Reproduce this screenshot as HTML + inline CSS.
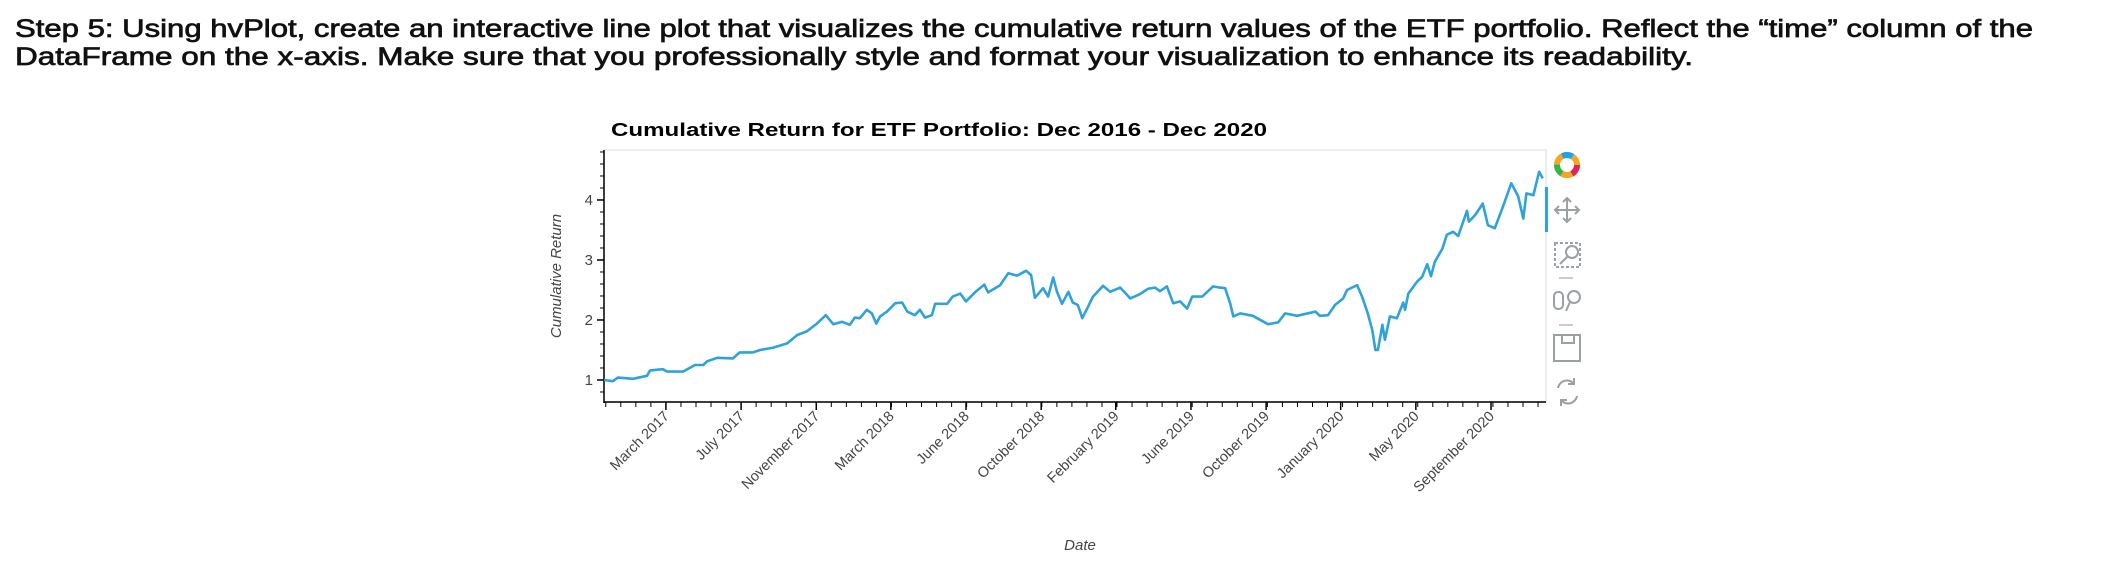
<!DOCTYPE html>
<html><head><meta charset="utf-8"><style>
html,body{margin:0;padding:0;background:#fff;width:2108px;height:567px;overflow:hidden}
svg{display:block}
</style></head><body>
<svg id="root" width="2108" height="567" xmlns="http://www.w3.org/2000/svg">
<text x="15" y="37" font-family="Liberation Sans, sans-serif" font-size="25" fill="#111" stroke="#111" stroke-width="0.7" textLength="2018" lengthAdjust="spacingAndGlyphs">Step 5: Using hvPlot, create an interactive line plot that visualizes the cumulative return values of the ETF portfolio. Reflect the “time” column of the</text>
<text x="15" y="65" font-family="Liberation Sans, sans-serif" font-size="25" fill="#111" stroke="#111" stroke-width="0.7" textLength="1678" lengthAdjust="spacingAndGlyphs">DataFrame on the x-axis. Make sure that you professionally style and format your visualization to enhance its readability.</text>
<text x="611" y="136" font-family="Liberation Sans, sans-serif" font-size="18" font-weight="bold" fill="#000" textLength="656" lengthAdjust="spacingAndGlyphs">Cumulative Return for ETF Portfolio: Dec 2016 - Dec 2020</text>
<rect x="604" y="150" width="942" height="252" fill="#fff" stroke="#e6e6e6" stroke-width="1.5"/>
<g id="axes"></g>
<path id="line" fill="none" stroke="#30a2da" stroke-width="2.6" stroke-linejoin="round"/>
<rect x="1545" y="187" width="3" height="45" fill="#30a2da"/>
<text transform="translate(561,276) rotate(-90)" text-anchor="middle" font-family="Liberation Sans, sans-serif" font-size="15" font-style="italic" fill="#444">Cumulative Return</text>
<text x="1080" y="550" text-anchor="middle" font-family="Liberation Sans, sans-serif" font-size="15" font-style="italic" fill="#444">Date</text>
<g fill="none" stroke="#9aa0a3" stroke-width="2">
 <g>
  <circle cx="1567" cy="165" r="10" fill="none" stroke="#f5a623" stroke-width="6"/>
  <circle cx="1567" cy="165" r="10" fill="none" stroke="#e0245e" stroke-width="6" stroke-dasharray="10.5 52" stroke-dashoffset="0"/>
  <circle cx="1567" cy="165" r="10" fill="none" stroke="#2db84b" stroke-width="6" stroke-dasharray="10.5 52" stroke-dashoffset="-21"/>
  <circle cx="1567" cy="165" r="10" fill="none" stroke="#1da1f2" stroke-width="6" stroke-dasharray="10.5 52" stroke-dashoffset="-42"/>
 </g>
 <g>
  <path d="M1567 198 v24 M1555 210 h24 M1563 202 l4-4 4 4 M1563 218 l4 4 4-4 M1559 206 l-4 4 4 4 M1575 206 l4 4-4 4"/>
 </g>
 <g>
  <rect x="1555" y="243" width="25" height="24" stroke-dasharray="3 2"/>
  <circle cx="1572" cy="252" r="6"/><path d="M1568 256 l-8 8"/>
 </g>
 <path d="M1559 278 h14 M1559 325 h14" stroke="#ccc"/>
 <g>
  <rect x="1554" y="292" width="9" height="17" rx="4"/>
  <circle cx="1574" cy="297" r="6"/><path d="M1570 302 l-4 9"/>
 </g>
 <g>
  <rect x="1554" y="335" width="26" height="26"/><path d="M1562 335 v8 h12 v-8"/>
 </g>
 <g>
  <path d="M1558 388 a9 9 0 0 1 16-4 M1577 396 a9 9 0 0 1-16 4"/>
  <path d="M1574 378 v6 h-6 M1561 406 v-6 h6"/>
 </g>
</g>
</svg>
<script>
const days = [0,14,22,46,68,73,93,100,125,144,157,163,179,204,215,236,247,268,290,306,321,337,351,363,377,389,397,405,416,424,431,437,448,461,472,480,492,500,508,519,524,543,552,564,573,587,602,608,627,640,654,668,676,682,695,703,711,717,725,735,742,750,757,766,774,790,801,817,833,848,861,872,880,891,901,912,923,931,947,964,975,983,991,996,1007,1027,1051,1067,1078,1097,1126,1133,1146,1157,1170,1176,1192,1200,1209,1216,1221,1225,1232,1236,1244,1255,1265,1268,1273,1287,1295,1303,1309,1315,1327,1334,1344,1352,1366,1369,1379,1391,1399,1410,1423,1436,1447,1455,1460,1471,1480,1486];
const returns = [1.00,0.98,1.04,1.02,1.07,1.16,1.18,1.14,1.14,1.25,1.25,1.31,1.37,1.36,1.46,1.46,1.50,1.54,1.61,1.75,1.81,1.94,2.08,1.93,1.97,1.92,2.04,2.03,2.17,2.11,1.94,2.06,2.14,2.28,2.29,2.14,2.08,2.17,2.04,2.08,2.27,2.27,2.39,2.44,2.31,2.46,2.59,2.46,2.58,2.78,2.74,2.82,2.75,2.37,2.53,2.39,2.71,2.47,2.27,2.47,2.29,2.25,2.03,2.22,2.39,2.57,2.47,2.54,2.36,2.43,2.52,2.54,2.48,2.56,2.28,2.31,2.19,2.39,2.39,2.56,2.54,2.53,2.28,2.06,2.11,2.07,1.93,1.96,2.11,2.07,2.14,2.07,2.08,2.25,2.36,2.50,2.58,2.39,2.11,1.83,1.50,1.50,1.92,1.67,2.06,2.03,2.29,2.17,2.44,2.64,2.72,2.93,2.73,2.97,3.19,3.42,3.47,3.40,3.82,3.64,3.75,3.94,3.58,3.53,3.89,4.28,4.06,3.69,4.11,4.08,4.47,4.36];
const xTickDays = [98,217,336,454,573,692,810,929,1048,1166,1285,1404];
const xTickLabels = ["March 2017","July 2017","November 2017","March 2018","June 2018","October 2018","February 2019","June 2019","October 2019","January 2020","May 2020","September 2020"];
const yTicks = [1,2,3,4];

const X0=604,X1=1546,Y0=150,Y1=402,D0=0,D1=1491,V0=0.633,V1=4.833;
const xs=d=>X0+(d-D0)/(D1-D0)*(X1-X0);
const ys=v=>Y1-(v-V0)/(V1-V0)*(Y1-Y0);
const NS='http://www.w3.org/2000/svg';
const ax=document.getElementById('axes');
function mk(tag,attrs){const e=document.createElementNS(NS,tag);for(const k in attrs)e.setAttribute(k,attrs[k]);return e;}

let p='';
for(let i=0;i<days.length;i++){p+=(i?'L':'M')+xs(days[i]).toFixed(1)+' '+ys(returns[i]).toFixed(1);}
document.getElementById('line').setAttribute('d',p);

const yl=mk('line',{x1:X0,y1:Y0,x2:X0,y2:Y1+1,stroke:'#000','stroke-width':1.5});


ax.appendChild(yl);
const xl=mk('line',{x1:X0,y1:Y1,x2:X1,y2:Y1,stroke:'#000','stroke-width':1.5});


ax.appendChild(xl);

const step=(xTickDays[1]-xTickDays[0])/5;
for(let v=0.8;v<V1;v+=0.2){
  const t=mk('line',{x1:X0-4,x2:X0,y1:ys(v),y2:ys(v),stroke:'#000','stroke-width':1});
  
  
  ax.appendChild(t);
}
yTicks.forEach(v=>{
  const t=mk('line',{x1:X0-7,x2:X0,y1:ys(v),y2:ys(v),stroke:'#000','stroke-width':1.5});
  
  
  ax.appendChild(t);
  const l=mk('text',{x:X0-11,y:ys(v)+5,'text-anchor':'end','font-family':'Liberation Sans, sans-serif','font-size':15,fill:'#444'});
  l.textContent=v;
  
  
  ax.appendChild(l);
});
for(let d=xTickDays[0]-4*step;d<D1;d+=step){
  const t=mk('line',{x1:xs(d),x2:xs(d),y1:Y1,y2:Y1+5,stroke:'#000','stroke-width':1});
  
  
  ax.appendChild(t);
}
xTickDays.forEach((d,i)=>{
  const x=xs(d);
  const t=mk('line',{x1:x,x2:x,y1:Y1,y2:Y1+8,stroke:'#000','stroke-width':1.5});
  
  
  ax.appendChild(t);
  const l=mk('text',{transform:`translate(${x+4},${Y1+15}) rotate(-45)`,'text-anchor':'end','font-family':'Liberation Sans, sans-serif','font-size':14.5,fill:'#444'});
  l.textContent=xTickLabels[i];
  
  
  ax.appendChild(l);
});
</script>
</body></html>
